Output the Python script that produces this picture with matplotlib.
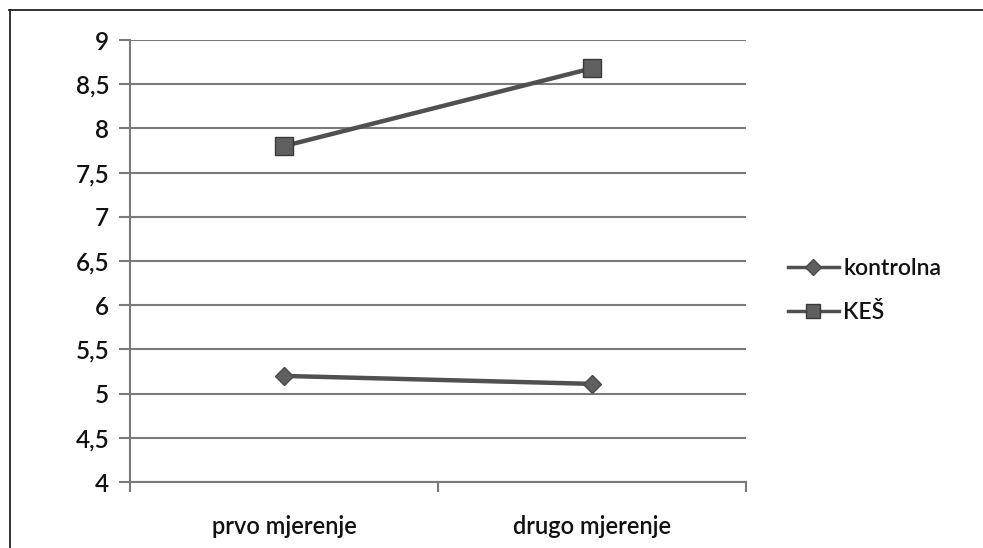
import matplotlib.pyplot as plt
from matplotlib.lines import Line2D

# measurement points and group means
categories = ['prvo mjerenje', 'drugo mjerenje']
kontrolna = [5.2, 5.11]
kes = [7.8, 8.68]
y_ticks = [4, 4.5, 5, 5.5, 6, 6.5, 7, 7.5, 8, 8.5, 9]
y_labels = ['4', '4,5', '5', '5,5', '6', '6,5', '7', '7,5', '8', '8,5', '9']

plt.rcParams['font.family'] = ['Lato', 'DejaVu Sans']
plt.rcParams['font.weight'] = 'semibold'

W, H = 983, 548
fig = plt.figure(figsize=(W / 100, H / 100), dpi=100)
ax = fig.add_axes([130 / W, 1 - 482 / H, (746 - 130) / W, (482 - 40) / H])

line_col = '#505050'
grid_col = '#7a7a7a'
text_col = '#111111'

x = range(len(categories))
ax.plot(x, kontrolna, color=line_col, lw=3.2, marker='D', markersize=9.5,
        markerfacecolor='#5f5f5f', markeredgecolor='#4a4a4a', label='kontrolna')
ax.plot(x, kes, color=line_col, lw=3.2, marker='s', markersize=12.5,
        markerfacecolor='#5f5f5f', markeredgecolor='#3a3a3a', label='KEŠ')

ax.set_xlim(-0.5, 1.5)
ax.set_ylim(4, 9)
ax.set_yticks(y_ticks)
ax.set_yticklabels(y_labels)
ax.yaxis.grid(True, color=grid_col, lw=1.5)
ax.set_axisbelow(True)

# category labels centred, tick marks on category boundaries
ax.set_xticks(list(x))
ax.set_xticklabels(categories)
ax.set_xticks([-0.5, 0.5, 1.5], minor=True)
ax.tick_params(axis='x', which='major', length=0, pad=24, labelsize=17, labelcolor=text_col)
ax.tick_params(axis='x', which='minor', length=7, width=1.5, color=grid_col, direction='out')
ax.tick_params(axis='y', length=8, width=1.5, color=grid_col, pad=7, labelsize=17.5, labelcolor=text_col)

for side in ['top', 'right']:
    ax.spines[side].set_visible(False)
ax.spines['left'].set_color(grid_col)
ax.spines['left'].set_linewidth(1.5)
ax.spines['bottom'].set_color(grid_col)
ax.spines['bottom'].set_linewidth(1.5)

leg = fig.legend(loc='upper left', bbox_to_anchor=(779 / W, 1 - 249 / H), frameon=False,
                 fontsize=16.5, handlelength=2.2, handletextpad=0.2, labelspacing=1.0,
                 borderaxespad=0, markerscale=0.85)
for t in leg.get_texts():
    t.set_color(text_col)
for h in leg.legend_handles:
    h.set_linewidth(2.5)

# chart frame
fig.add_artist(Line2D([9 / W, 1.0], [1 - 9.5 / H, 1 - 9.5 / H], color='#222222', lw=1.3))
fig.add_artist(Line2D([9.5 / W, 9.5 / W], [0, 1 - 9.5 / H], color='#222222', lw=1.3))

fig.savefig('out.png', dpi=100)
